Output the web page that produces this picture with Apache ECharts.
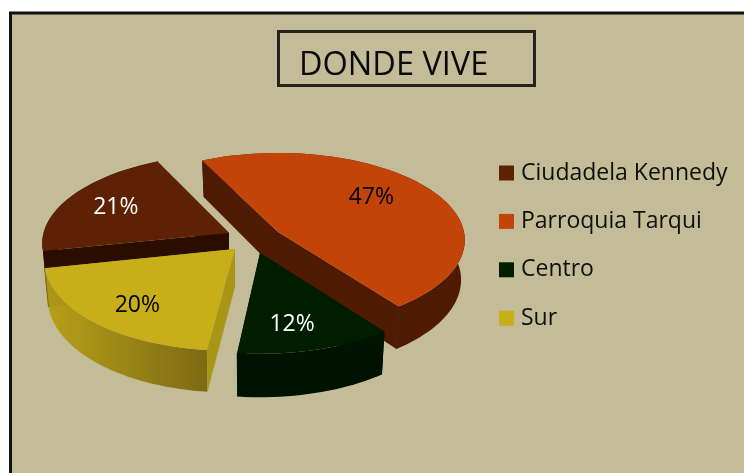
<!DOCTYPE html>
<html><head><meta charset="utf-8">
<style>html,body{margin:0;padding:0;background:#fff}#c{width:744px;height:473px}</style>
<script src="https://cdn.jsdelivr.net/npm/echarts@6/dist/echarts.min.js"></script>
</head><body><div id="c"></div>
<script>
const categories = ['Ciudadela Kennedy','Parroquia Tarqui','Centro','Sur'];
const percentages = [21,47,12,20];
const chartTitle = 'DONDE VIVE';

const FONT = '"Open Sans", sans-serif';
const START_ANGLE = 258.2;
const CENTER = [250,245], RX = 186, RY = 86.3, PERSP = 0.092, DEPTH = 39.5, BOTTOM_SCALE = 0.98;
const looks = [
 {top:'#5f2104',wall:'#2b0d00',plane:'#2b0d00',explode:[-21,-12],a:0.997,s:-0.056,b:1,dz:1,text:'#fff',lf:0.72,nudge:[2,1],z:1},
 {top:'#c34409',wall:'#4e1a02',plane:'#4e1a02',explode:[28,-13],a:1,s:0,b:1,dz:1,text:'#000',lf:0.6,nudge:[1,-8],z:2},
 {top:'#001d00',wall:'#001200',plane:'#001200',explode:[10,8],a:1.03,s:0,b:1.06,dz:1,text:'#fff',lf:0.65,nudge:[-3,11],z:3},
 {top:'#c8ae18',wall:['#b8a018','#7c6a14'],plane:'#a99516',explode:[-15,4],a:1.02,s:-0.059,b:1.07,dz:0.96,text:'#000',lf:0.75,nudge:[6,2],z:4}
];
function project(look,deg,r){
  const t=deg*Math.PI/180,u=r*Math.sin(t),v=-r*Math.cos(t),w=1-PERSP*v;
  const X=RX*u/w,Y=RY*v/w;
  return {X:look.a*X+look.s*Y,Y:look.b*Y,d:DEPTH*look.dz/w};
}
function slicePoints(look,from,to){
  const ox=CENTER[0]+look.explode[0],oy=CENTER[1]+look.explode[1];
  const steps=Math.max(8,Math.ceil(Math.abs(to-from)/2)),tops=[],bots=[];
  for(let i=0;i<=steps;i++){
    const p=project(look,from+(to-from)*i/steps,1);
    tops.push([ox+p.X,oy+p.Y]);
    bots.push([ox+p.X*BOTTOM_SCALE,oy+p.Y+p.d]);
  }
  return {ox,oy,tops,bots};
}
function makeRender(idx,startDeg){
  const look=looks[idx];
  return function(params,api){
    const sweep=api.value(0)*3.6,from=startDeg,to=startDeg+sweep;
    const {ox,oy,tops,bots}=slicePoints(look,from,to);
    const last=tops.length-1,apexBot=[ox,oy+DEPTH*look.dz];
    const grad=Array.isArray(look.wall);
    const wallFill=grad?new echarts.graphic.LinearGradient(0,0,1,0,[{offset:0,color:look.wall[0]},{offset:1,color:look.wall[1]}]):look.wall;
    const mid=from+sweep/2,m=project(look,mid,look.lf);
    return {type:'group',children:[
      {type:'polygon',shape:{points:tops.concat(bots.slice().reverse())},style:{fill:wallFill}},
      {type:'polygon',shape:{points:[[ox,oy],tops[0],bots[0],apexBot]},style:{fill:look.plane}},
      {type:'polygon',shape:{points:[[ox,oy],tops[last],bots[last],apexBot]},style:{fill:look.plane}},
      {type:'polyline',shape:{points:[tops[last],bots[last]]},style:{stroke:grad?look.wall[1]:look.plane,lineWidth:1,fill:null}},
      {type:'polygon',shape:{points:[[ox,oy]].concat(tops)},style:{fill:look.top}},
      {type:'text',x:ox+m.X+look.nudge[0],y:oy+m.Y+look.nudge[1],style:{text:api.value(0)+'%',fill:look.text,font:'23px '+FONT,align:'center',verticalAlign:'middle'}}
    ]};
  };
}
let cum=START_ANGLE;
const series=categories.map((name,i)=>{
  const s={type:'custom',name,coordinateSystem:'none',z:looks[i].z+2,silent:true,
    itemStyle:{color:looks[i].top},data:[[percentages[i]]],renderItem:makeRender(i,cum)};
  cum+=percentages[i]*3.6;
  return s;
});
const chart=echarts.init(document.getElementById('c'),null,{renderer:'canvas'});
chart.setOption({
  animation:false,
  graphic:[{type:'rect',z:0,silent:true,shape:{x:10.5,y:13,width:800,height:600},style:{fill:'#c4bc98',stroke:'#111',lineWidth:3}}],
  title:{text:chartTitle,left:278,top:31,padding:[14,46,0,21],itemGap:0,borderColor:'#26231a',borderWidth:3,
    textStyle:{fontFamily:FONT,fontSize:32.5,fontWeight:'normal',color:'#0a0a0a',lineHeight:41}},
  legend:{orient:'vertical',left:499,top:159,icon:'rect',itemWidth:15,itemHeight:15,itemGap:20.4,padding:0,
    data:categories,textStyle:{fontFamily:FONT,fontSize:23,color:'#0f0f0a',lineHeight:28,padding:[0,0,0,2]}},
  series
});
</script></body></html>
